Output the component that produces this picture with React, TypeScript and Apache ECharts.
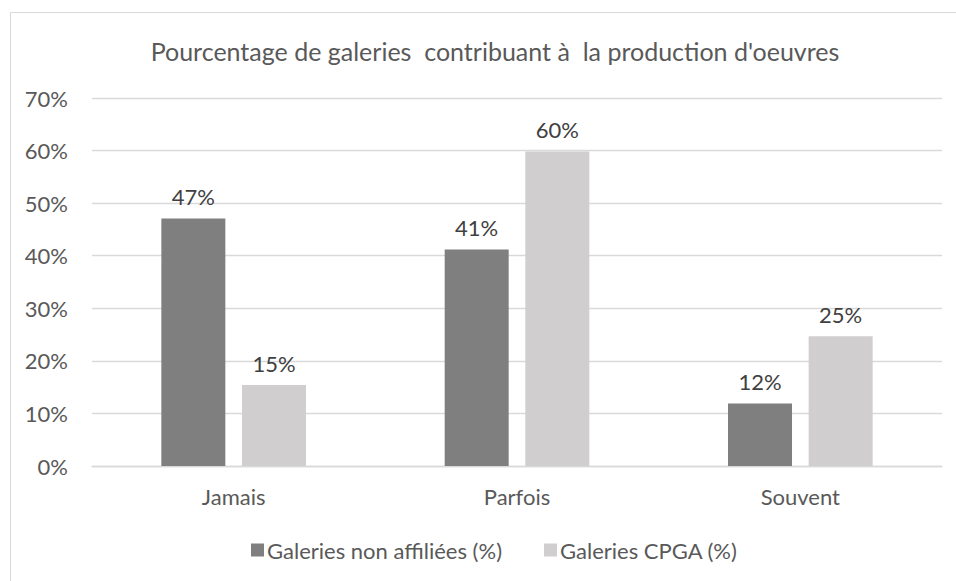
import React, { useEffect, useRef } from "react";
import * as echarts from "echarts";

const categories = ["Jamais", "Parfois", "Souvent"];
const seriesNames = ["Galeries non affiliées (%)", "Galeries CPGA (%)"];
const nonAffiliees = [47.1, 41.2, 11.9];
const cpga = [15.4, 59.8, 24.7];
const titleText = "Pourcentage de galeries  contribuant à  la production d'oeuvres";

const FONT = "Lato, 'Open Sans', sans-serif";

export default function App() {
  const ref = useRef<HTMLDivElement>(null);
  useEffect(() => {
    if (!ref.current) return;
    const chart = echarts.init(ref.current, undefined, { renderer: "svg" });
    const labelCfg = {
      show: true,
      position: "top" as const,
      distance: 11,
      fontFamily: FONT,
      fontSize: 22,
      color: "#404040",
      formatter: (p: any) => Math.round(p.value) + "%",
    };
    chart.setOption({
      animation: false,
      backgroundColor: "#ffffff",
      textStyle: { fontFamily: FONT },
      title: {
        text: titleText,
        left: 490,
        top: 33,
        textAlign: "center",
        textStyle: { fontFamily: FONT, fontSize: 25, fontWeight: "normal", color: "#595959" },
      },
      graphic: [
        {
          type: "rect",
          shape: { x: 10.5, y: 12.5, width: 1000, height: 700 },
          style: { fill: "none", stroke: "#d9d9d9", lineWidth: 1 },
          silent: true,
        },
      ],
      legend: {
        data: seriesNames,
        left: 246,
        top: 534,
        icon: "rect",
        itemWidth: 13,
        itemHeight: 13,
        itemGap: 42,
        textStyle: { fontFamily: FONT, fontSize: 22, color: "#595959", padding: [0, 0, 0, -2] },
      },
      grid: { left: 92, right: 14, top: 98, bottom: 115, containLabel: false },
      xAxis: {
        type: "category",
        data: categories,
        axisLine: { lineStyle: { color: "#d9d9d9", width: 1.3 } },
        axisTick: { show: false },
        axisLabel: { fontFamily: FONT, fontSize: 22, color: "#595959", margin: 19 },
      },
      yAxis: {
        type: "value",
        min: 0,
        max: 70,
        interval: 10,
        axisLine: { show: false },
        axisTick: { show: false },
        axisLabel: {
          fontFamily: FONT,
          fontSize: 22,
          color: "#595959",
          margin: 24,
          formatter: "{value}%",
        },
        splitLine: { lineStyle: { color: "#d9d9d9", width: 1.3 } },
      },
      series: [
        {
          name: seriesNames[0],
          type: "bar",
          data: nonAffiliees,
          barWidth: 64,
          barGap: "26%",
          itemStyle: { color: "#7f7f7f" },
          label: labelCfg,
        },
        {
          name: seriesNames[1],
          type: "bar",
          data: cpga,
          barWidth: 64,
          barGap: "26%",
          itemStyle: { color: "#d0cece" },
          label: labelCfg,
        },
      ],
    });
    return () => chart.dispose();
  }, []);
  return (
    <div
      ref={ref}
      style={{ position: "fixed", left: 0, top: 0, width: 956, height: 581 }}
    />
  );
}
